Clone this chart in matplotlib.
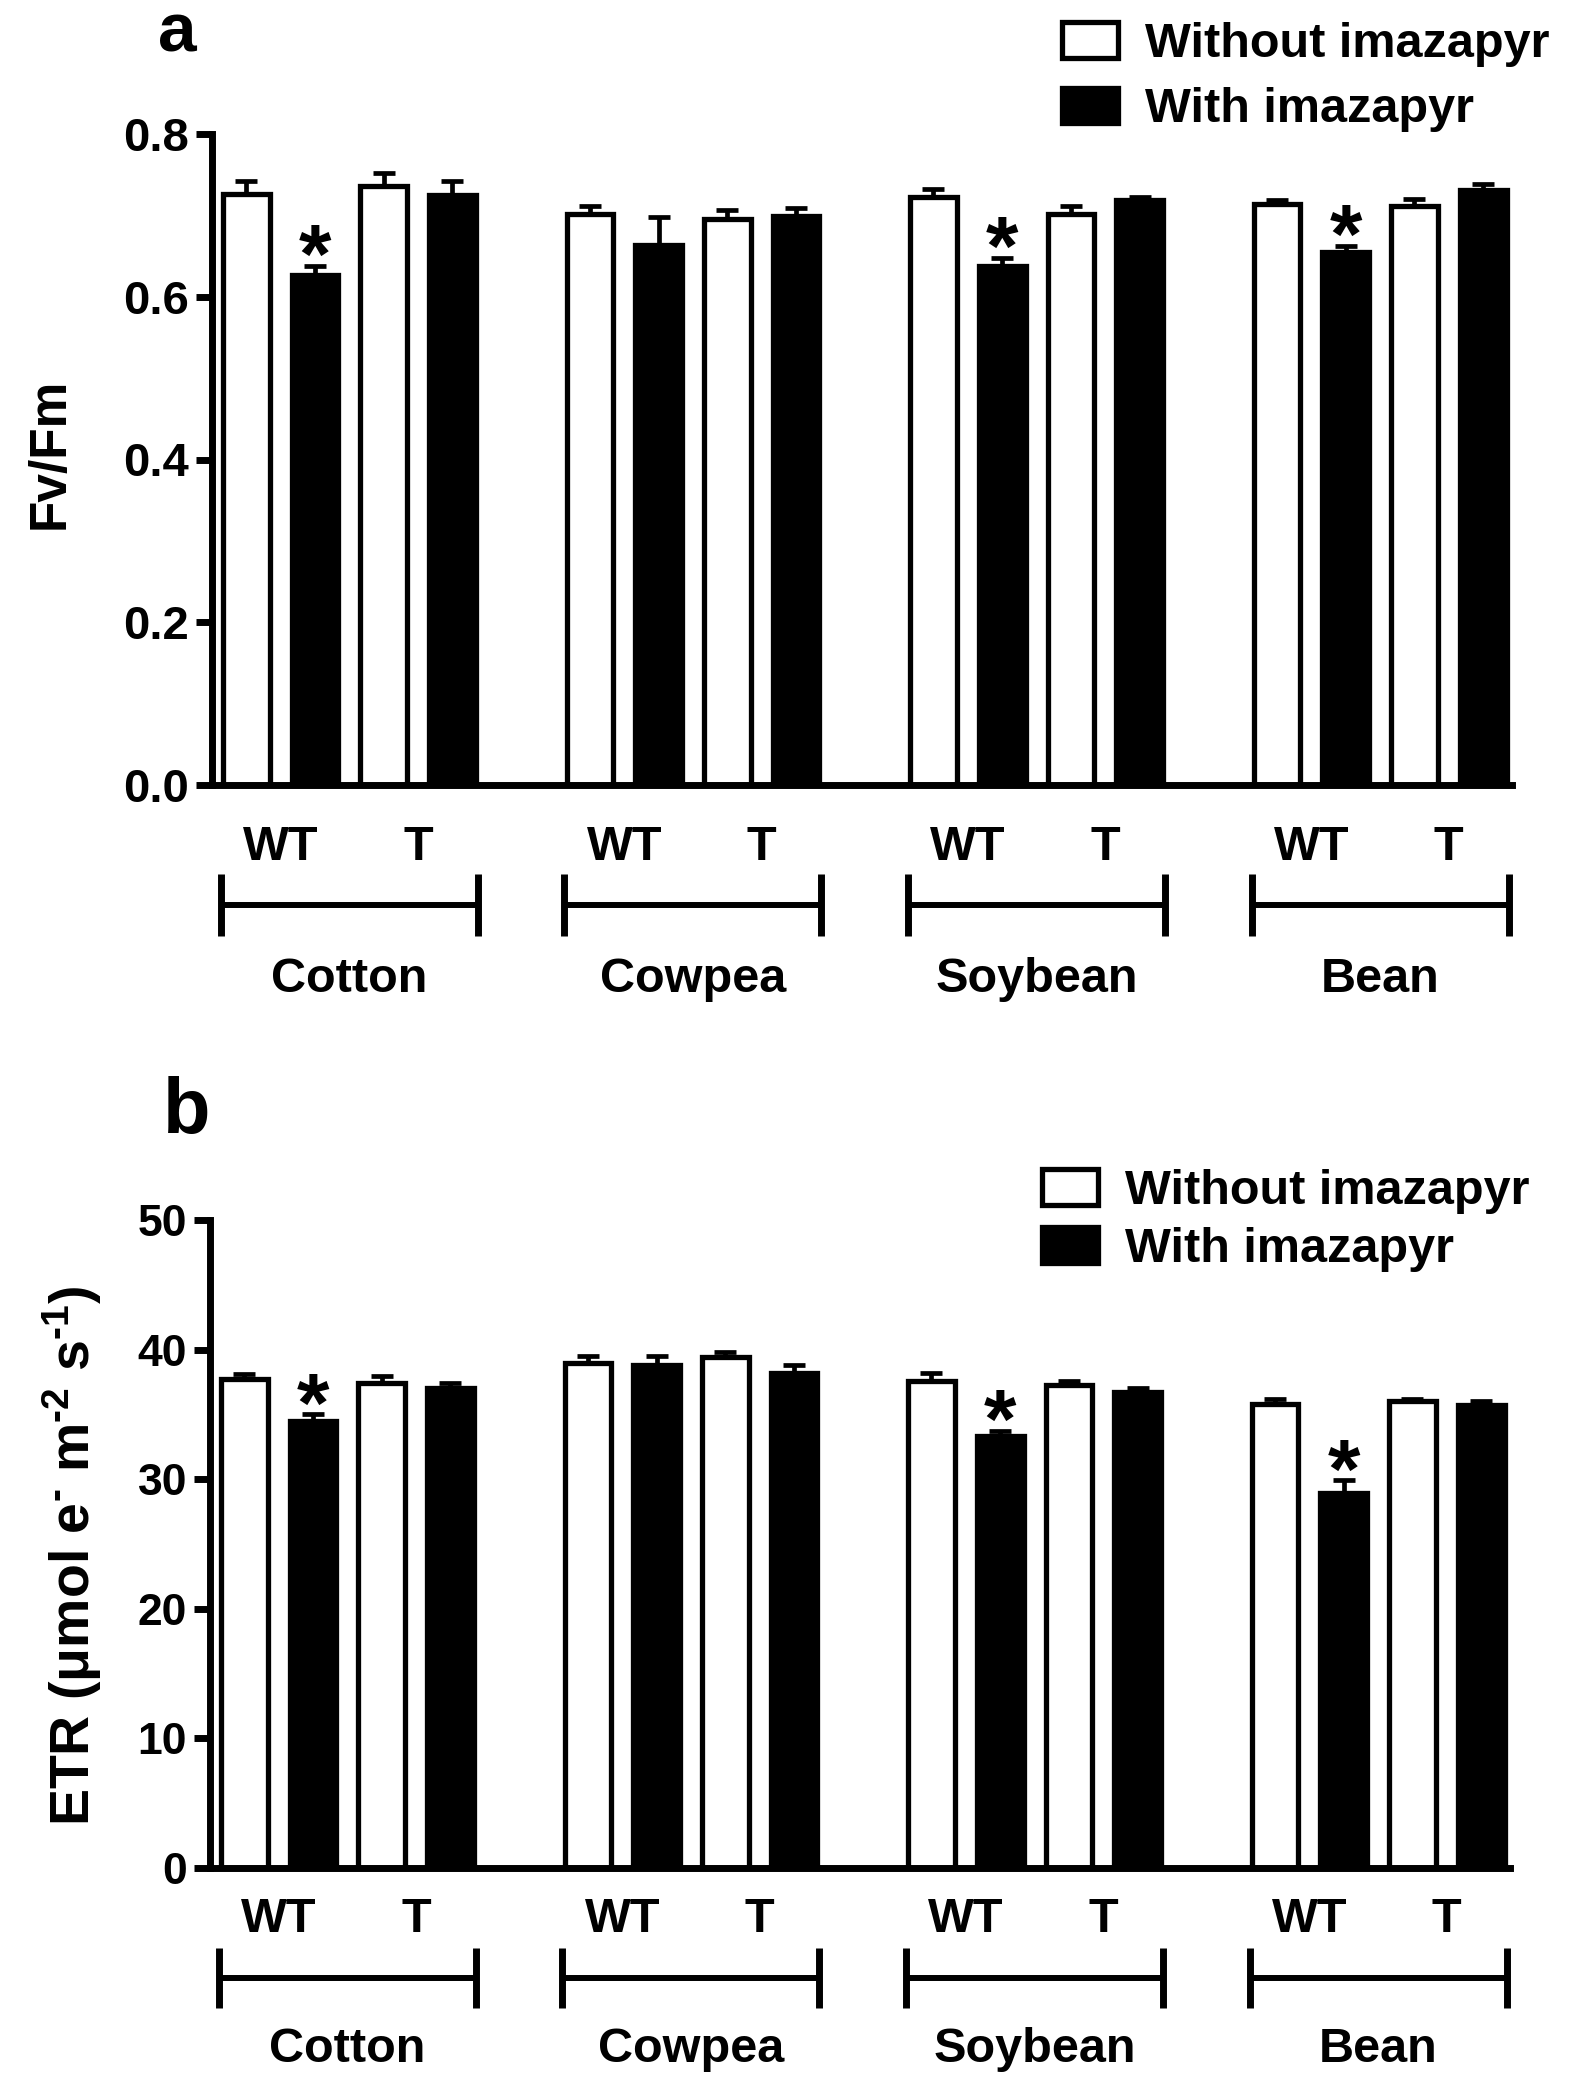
import numpy as np
import matplotlib
matplotlib.use('Agg')
import matplotlib.pyplot as plt
import matplotlib.transforms as mtransforms
from matplotlib.patches import Patch

plt.rcParams['font.family'] = ['Liberation Sans', 'DejaVu Sans']
plt.rcParams['font.weight'] = 'bold'
plt.rcParams['mathtext.fontset'] = 'custom'
plt.rcParams['mathtext.rm'] = 'Liberation Sans:bold'
plt.rcParams['mathtext.it'] = 'Liberation Sans:bold'
plt.rcParams['mathtext.bf'] = 'Liberation Sans:bold'
plt.rcParams['mathtext.default'] = 'regular'

# ---------------- data ----------------
crops = ['Cotton', 'Cowpea', 'Soybean', 'Bean']
genotypes = ['WT', 'T']
legend_labels = ['Without imazapyr', 'With imazapyr']

# Panel a: Fv/Fm
fv_without_WT = [0.726, 0.702, 0.723, 0.714]
fv_without_WT_err = [0.016, 0.010, 0.010, 0.005]
fv_with_WT = [0.627, 0.663, 0.638, 0.655]
fv_with_WT_err = [0.011, 0.035, 0.010, 0.007]
fv_without_T = [0.736, 0.696, 0.702, 0.712]
fv_without_T_err = [0.016, 0.011, 0.010, 0.008]
fv_with_T = [0.725, 0.699, 0.719, 0.731]
fv_with_T_err = [0.017, 0.010, 0.004, 0.007]
fv_signif = [True, False, True, True]

# Panel b: ETR
etr_without_WT = [37.7, 39.0, 37.6, 35.8]
etr_without_WT_err = [0.4, 0.5, 0.6, 0.4]
etr_with_WT = [34.5, 38.8, 33.3, 28.9]
etr_with_WT_err = [0.5, 0.7, 0.4, 1.0]
etr_without_T = [37.4, 39.4, 37.3, 36.0]
etr_without_T_err = [0.6, 0.45, 0.3, 0.2]
etr_with_T = [37.0, 38.2, 36.7, 35.7]
etr_with_T_err = [0.4, 0.6, 0.3, 0.3]
etr_signif = [True, False, True, True]

fv_ticks = [0.0, 0.2, 0.4, 0.6, 0.8]
etr_ticks = [0, 10, 20, 30, 40, 50]

# ---------------- figure ----------------
W, H = 1585, 2079
fig = plt.figure(figsize=(W / 100, H / 100), dpi=100)

EDGE = 3.8
BARW = 0.68
LW_AX = 5


def add_panel(rect, series, errs, signif, ylim, yticks, fmt, label_offsets, ticksize):
    ax = fig.add_axes(rect)
    n = len(crops)
    base = np.arange(n) * 5
    colors = ['white', 'black', 'white', 'black']
    for j, (vals, ee, c) in enumerate(zip(series, errs, colors)):
        x = base + j
        ax.bar(x, vals, width=BARW, color=c, edgecolor='black', linewidth=EDGE, zorder=2)
        ax.errorbar(x, vals, yerr=[np.zeros(n), ee], fmt='none', ecolor='black',
                    elinewidth=3.4, capsize=8, capthick=3.4, zorder=1.9)
    # asterisks on WT with imazapyr
    for g in range(n):
        if signif[g]:
            ax.annotate('*', xy=(base[g] + 1, series[1][g] + errs[1][g]),
                        xytext=(0, -17), textcoords='offset pixels',
                        ha='center', va='baseline', fontsize=60, annotation_clip=False)
    ax.set_xlim(-0.5, 18.42)
    ax.set_ylim(*ylim)
    ax.set_yticks(yticks)
    ax.set_yticklabels([fmt.format(t) for t in yticks])
    ax.set_xticks([])
    for s in ['top', 'right']:
        ax.spines[s].set_visible(False)
    for s in ['left', 'bottom']:
        ax.spines[s].set_linewidth(LW_AX)
        ax.spines[s].set_zorder(3)
    ax.tick_params(axis='y', length=11.5, width=LW_AX, labelsize=ticksize, pad=5)

    # group labels and brackets below axis
    hpx = rect[3] * H
    wt_off, br_off, br_half, crop_off = label_offsets
    blend = mtransforms.blended_transform_factory(ax.transData, ax.transAxes)
    for g, crop in enumerate(crops):
        b = base[g]
        ax.text(b + 0.5, -wt_off / hpx, genotypes[0], transform=blend, ha='center',
                va='baseline', fontsize=35, clip_on=False)
        ax.text(b + 2.5, -wt_off / hpx, genotypes[1], transform=blend, ha='center',
                va='baseline', fontsize=35, clip_on=False)
        xl, xr = b - 0.37, b + 3.37
        yb = -br_off / hpx
        ax.plot([xl, xr], [yb, yb], transform=blend, color='black', lw=4.3,
                solid_capstyle='butt', clip_on=False)
        for xx in (xl, xr):
            ax.plot([xx, xx], [yb - br_half / hpx, yb + br_half / hpx], transform=blend,
                    color='black', lw=5, solid_capstyle='butt', clip_on=False)
        ax.text(b + 1.5, -crop_off / hpx, crop, transform=blend, ha='center',
                va='baseline', fontsize=35, clip_on=False)
    return ax


# panel a
ax_a = add_panel([212 / W, 1 - 785 / H, 1300 / W, 651 / H],
                 [fv_without_WT, fv_with_WT, fv_without_T, fv_with_T],
                 [fv_without_WT_err, fv_with_WT_err, fv_without_T_err, fv_with_T_err],
                 fv_signif, (0, 0.8), fv_ticks, '{:.1f}', (75, 120, 31, 207), 34)
# panel b
ax_b = add_panel([210 / W, 1 - 1868 / H, 1300 / W, 648 / H],
                 [etr_without_WT, etr_with_WT, etr_without_T, etr_with_T],
                 [etr_without_WT_err, etr_with_WT_err, etr_without_T_err, etr_with_T_err],
                 etr_signif, (0, 50), etr_ticks, '{:d}', (64, 110, 30, 194), 32)

# panel letters
fig.text(158 / W, 1 - 51 / H, 'a', fontsize=50, ha='left', va='baseline')
fig.text(163 / W, 1 - 1133 / H, 'b', fontsize=56, ha='left', va='baseline')

# y labels
fig.text(50 / W, 1 - 453 / H, 'Fv/Fm', rotation=90, fontsize=37, ha='center', va='center')
fig.text(72 / W, 1 - 1556 / H, 'ETR (μmol e$^{‐}$ m$^{‐2}$ s$^{‐1}$)', rotation=90,
         fontsize=40, ha='center', va='center')

# legends
handles = [Patch(facecolor='white', edgecolor='black', linewidth=EDGE, label=legend_labels[0]),
           Patch(facecolor='black', edgecolor='black', linewidth=EDGE, label=legend_labels[1])]
for (lx, ly, sp) in [(1062, 22, 0.42), (1042, 1169, 0.26)]:
    fig.legend(handles=handles, loc='upper left', bbox_to_anchor=(lx / W, 1 - ly / H),
               bbox_transform=fig.transFigure, frameon=False, fontsize=35,
               handlelength=1.15, handleheight=0.76, handletextpad=0.55,
               labelspacing=sp, borderpad=0, borderaxespad=0)

fig.savefig('out.png', dpi=100)
